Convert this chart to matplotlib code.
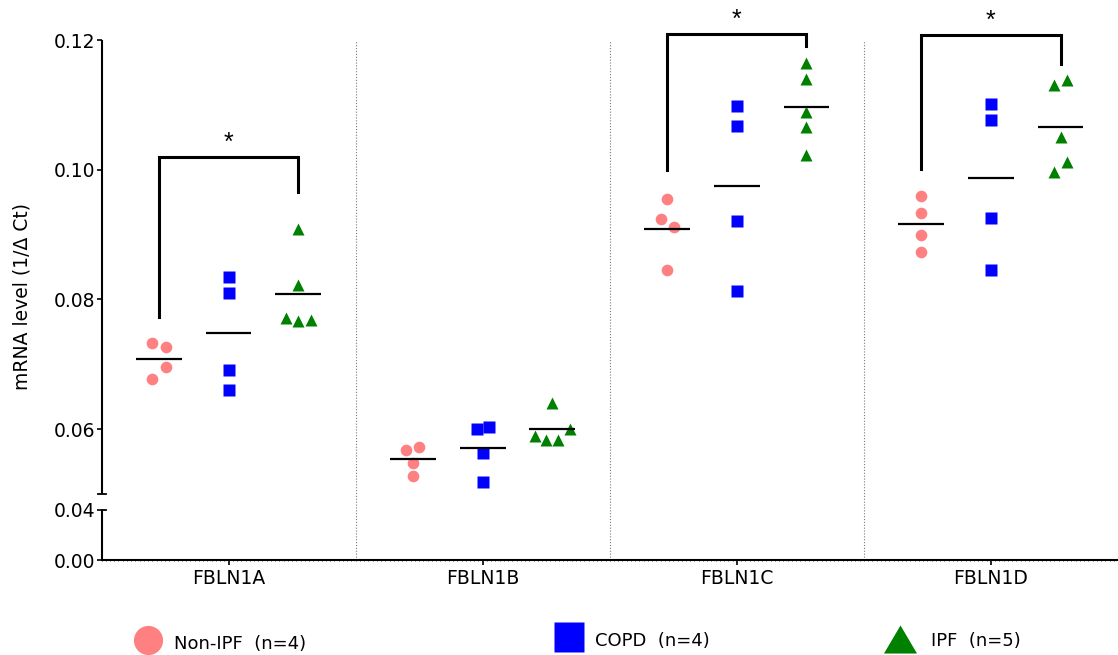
import numpy as np
import matplotlib
matplotlib.use("Agg")
import matplotlib.pyplot as plt
from matplotlib.lines import Line2D
from matplotlib.ticker import FixedLocator, MultipleLocator, FixedFormatter

# ---------------------------------------------------------------- data
categories = ["FBLN1A", "FBLN1B", "FBLN1C", "FBLN1D"]
group_names = ["Non-IPF", "COPD", "IPF"]
group_n = [4, 4, 5]

non_ipf = [
    [0.0733, 0.0727, 0.0696, 0.0677],
    [0.0568, 0.0572, 0.0548, 0.0527],
    [0.0955, 0.0924, 0.0912, 0.0845],
    [0.0959, 0.0933, 0.0900, 0.0873],
]
copd = [
    [0.0835, 0.0810, 0.0691, 0.0660],
    [0.0600, 0.0604, 0.0563, 0.0518],
    [0.1099, 0.1067, 0.0921, 0.0813],
    [0.1101, 0.1076, 0.0925, 0.0845],
]
ipf = [
    [0.0908, 0.0823, 0.0772, 0.0767, 0.0769],
    [0.0641, 0.0590, 0.0583, 0.0584, 0.0600],
    [0.1164, 0.1140, 0.1089, 0.1066, 0.1023],
    [0.1130, 0.1138, 0.1050, 0.0997, 0.1012],
]

# significance brackets, Non-IPF vs IPF
sig_category = [0, 2, 3]
sig_left = [0.0773, 0.1000, 0.1001]
sig_right = [0.0965, 0.1190, 0.1163]
sig_top = [0.1020, 0.1209, 0.1208]
sig_text = "*"

y_ticks = [0.00, 0.04, 0.06, 0.08, 0.10, 0.12]

# ---------------------------------------------------------------- layout
# horizontal scatter spread of overlapping points (x units)
spread_non = [[-0.026, 0.026, 0.026, -0.026], [-0.026, 0.024, 0, 0],
              [0, -0.024, 0.026, 0], [0, 0, 0, 0]]
spread_copd = [[0, 0, 0, 0], [-0.024, 0.026, 0, 0], [0, 0, 0, 0], [0, 0, 0, 0]]
spread_ipf = [[0, 0, -0.049, 0, 0.049], [0, -0.069, -0.024, 0.024, 0.069],
              [0, 0, 0, 0, 0], [-0.024, 0.024, 0, -0.024, 0.024]]

col_offset = [-0.274, 0.0, 0.274]
colors = ["#FF8080", "#0000FF", "#008000"]
markers = ["o", "s", "^"]
msizes = [8.4, 8.6, 8.4]

W, H = 1118, 655
fig = plt.figure(figsize=(W / 100, H / 100), dpi=100)
plt.rcParams["font.family"] = ["DejaVu Sans"]

ax_left, ax_right, ax_top, ax_bottom = 101.5, 1118, 40, 560
ax = fig.add_axes([ax_left / W, 1 - ax_bottom / H,
                   (ax_right - ax_left) / W, (ax_bottom - ax_top) / H])


# broken y scale: 0-0.04 compressed, gap, 0.05-0.12 expanded
def fwd(v):
    v = np.asarray(v, dtype=float)
    return np.where(v <= 0.04, v * 1250.0,
                    np.where(v < 0.05, 50.0 + (v - 0.04) * 1600.0,
                             66.0 + (v - 0.05) * 6485.0))


def inv(p):
    p = np.asarray(p, dtype=float)
    return np.where(p <= 50.0, p / 1250.0,
                    np.where(p < 66.0, 0.04 + (p - 50.0) / 1600.0,
                             0.05 + (p - 66.0) / 6485.0))


ax.set_yscale("function", functions=(fwd, inv))
ax.set_ylim(0, 0.12)
ax.set_xlim(-0.5, 3.5)

# separators between genes
ax.vlines([0.5, 1.5, 2.5], 0, 0.12, colors="#7a7a7a", lw=0.8,
          linestyles=(0, (1, 1.6)), zorder=1)

# scatter points + mean lines
series = [non_ipf, copd, ipf]
spreads = [spread_non, spread_copd, spread_ipf]
for g, (vals_all, spr_all) in enumerate(zip(series, spreads)):
    for c, (vals, spr) in enumerate(zip(vals_all, spr_all)):
        xc = c + col_offset[g]
        xs = xc + np.array(spr)
        ax.plot(xs, vals, linestyle="none", marker=markers[g], ms=msizes[g],
                mfc=colors[g], mec="none", zorder=2)
        ax.hlines(np.mean(vals), xc - 0.09, xc + 0.09, colors="black",
                  lw=1.6, zorder=3)

# significance brackets
for c, yl, yr, yt in zip(sig_category, sig_left, sig_right, sig_top):
    x0 = c + col_offset[0]
    x1 = c + col_offset[2]
    ax.plot([x0, x0, x1, x1], [yl, yt, yt, yr], color="black", lw=2.2,
            solid_joinstyle="miter", clip_on=False, zorder=4)
    ax.text((x0 + x1) / 2, yt + 0.0011, sig_text, ha="center", va="baseline",
            fontsize=18, family="Liberation Sans", clip_on=False)

# axes styling
for s in ["top", "right", "left"]:
    ax.spines[s].set_visible(False)
ax.spines["bottom"].set_linewidth(1.5)

yt_tr = ax.get_yaxis_transform()
cap = 4.0 / (ax_right - ax_left)
ax.plot([0, 0], [0, 0.04], color="black", lw=1.5, transform=yt_tr,
        clip_on=False, solid_capstyle="butt")
ax.plot([0, 0], [0.05, 0.12], color="black", lw=1.5, transform=yt_tr,
        clip_on=False, solid_capstyle="butt")
ax.plot([-cap, cap], [0.05, 0.05], color="black", lw=1.3, transform=yt_tr,
        clip_on=False)
ax.plot([0, cap], [0.04, 0.04], color="black", lw=1.3, transform=yt_tr,
        clip_on=False)

ax.yaxis.set_major_locator(FixedLocator(y_ticks))
ax.yaxis.set_major_formatter(FixedFormatter([f"{t:.2f}" for t in y_ticks]))
ax.yaxis.set_minor_locator(FixedLocator([]))
ax.tick_params(axis="y", which="major", direction="out", length=3.6,
               width=1.2, pad=1.0, labelsize=13.5)

ax.set_xticks(range(len(categories)))
ax.set_xticklabels(categories)
ax.xaxis.set_minor_locator(MultipleLocator(1 / 60))
ax.tick_params(axis="x", which="major", direction="out", length=3.6,
               width=1.2, pad=3.0, labelsize=13.5)
ax.tick_params(axis="x", which="minor", direction="inout", length=1.8,
               width=0.5)

fig.text(22 / W, 1 - 297 / H, "mRNA level (1/\u0394 Ct)", rotation=90,
         ha="center", va="center", fontsize=13.5)


# legend along the bottom
def px(x, y):
    return x / W, 1 - y / H


tri_wide = [(-1, -0.85), (1, -0.85), (0, 0.85), (-1, -0.85)]
leg_markers = ["o", "s", tri_wide]
leg_sizes = [21.0, 21.6, 23.8]
leg_marker_pos = [(148, 639.5), (569.2, 636.7), (900.3, 639)]
leg_text_pos = [(174.3, 649.3), (595, 646), (931, 646)]
for g in range(3):
    mx, my = px(*leg_marker_pos[g])
    fig.add_artist(Line2D([mx], [my], marker=leg_markers[g], ms=leg_sizes[g],
                          mfc=colors[g], mec="none", linestyle="none",
                          transform=fig.transFigure))
    tx, ty = px(*leg_text_pos[g])
    fig.text(tx, ty, f"{group_names[g]}  (n={group_n[g]})", ha="left",
             va="baseline", fontsize=13)

fig.savefig("out.png", dpi=100)
